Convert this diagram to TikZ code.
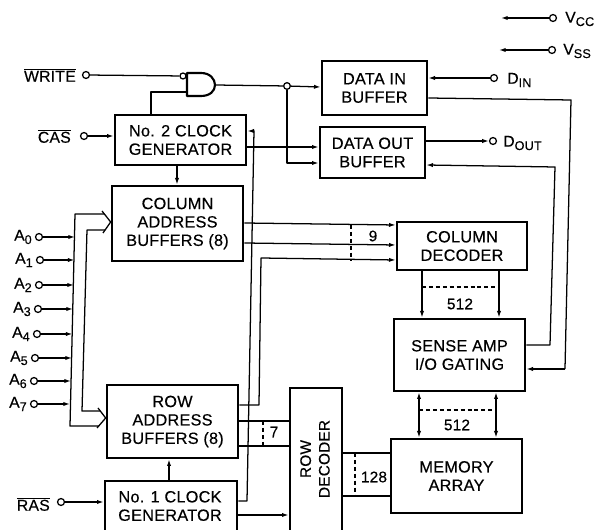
\documentclass[tikz,border=0pt]{standalone}
\usepackage{fontspec}
\setmainfont[FakeBold=0.35,LetterSpace=1.5]{Liberation Sans}
\usetikzlibrary{arrows.meta}
\newcommand{\pxbox}[6]{%
  \pgfmathsetmacro{\pxw}{(#4-#2)*0.75}\pgfmathsetmacro{\pxh}{(#5-#3)*0.75}%
  \node[blk,minimum width=\pxw pt,minimum height=\pxh pt] (#1) at ({(#2+#4)/2},{(#3+#5)/2}) {#6};}
\newcommand{\sbs}[1]{\raisebox{-0.4ex}{\fontsize{9.5}{10}\selectfont #1}}
\newcommand{\barr}[1]{$\overline{\mbox{#1}}$}
\tikzset{
  x=0.75pt,y=-0.75pt,
  blk/.style={draw,line width=2pt,inner sep=0pt,align=center,font=\fontsize{12.2}{13.8}\selectfont,fill=white},
  wire/.style={line width=0.95pt,line join=round},
  arrw/.style={wire,-{Latex[length=5pt,width=3.2pt]}},
  arrb/.style={wire,{Latex[length=5pt,width=3.2pt]}-{Latex[length=5pt,width=3.2pt]}},
  dashln/.style={line width=0.95pt,dash pattern=on 3pt off 2.2pt},
  term/.style={draw,circle,line width=0.95pt,minimum size=5.2pt,inner sep=0pt,fill=white},
  lab/.style={inner sep=0pt,font=\fontsize{11.8}{13}\selectfont},
  num/.style={inner sep=0pt,font=\fontsize{11.5}{13}\selectfont},
  chev/.style={line width=0.95pt,line join=miter}
}
\begin{document}
\begin{tikzpicture}
\useasboundingbox (0,0) rectangle (594,530);
\clip (0,0) rectangle (594,530);
% blocks
\pxbox{clkb}{115}{115}{246}{165}{No. 2 CLOCK\\GENERATOR}
\pxbox{cab}{112}{186}{243}{261}{COLUMN\\ADDRESS\\BUFFERS (8)}
\pxbox{din}{322}{61}{427}{115}{DATA IN\\BUFFER}
\pxbox{dout}{320}{127}{425}{178}{DATA OUT\\BUFFER}
\pxbox{cdec}{397}{222}{527}{270}{COLUMN\\DECODER}
\pxbox{sense}{394}{319}{525}{391}{SENSE AMP\\I/O GATING}
\pxbox{mem}{391}{439}{522}{513}{MEMORY\\ARRAY}
\pxbox{rab}{107}{385}{238}{458}{ROW\\ADDRESS\\BUFFERS (8)}
\pxbox{clka}{105}{481}{237}{540}{}
\node[inner sep=0pt,align=center,font=\fontsize{12.2}{13.8}\selectfont] at (170,506) {No. 1 CLOCK\\GENERATOR};
\pxbox{rdec}{290}{388}{342}{540}{}
\node[inner sep=0pt,align=center,rotate=90,font=\fontsize{11.5}{14}\selectfont] at (315,459) {ROW\\DECODER};
% terminals
\node[term] (twr) at (86,75) {};
\node[lab,anchor=east] (lwr) at (76,75) {\barr{WRITE}};
\node[term] (tcas) at (84,136) {};
\node[lab,anchor=east] (lcas) at (71,136) {\barr{CAS}};
\node[term] (tras) at (61,502) {};
\node[lab,anchor=east] (lras) at (50,504) {\barr{RAS}};
\foreach \n/\px/\py/\bx in {0/39/237/75,1/40/260/74.5,2/39/285/74,3/38/309/73,4/37/334/72.5,5/35/358/72,6/34/381/71,7/34/404/70}{
  \node[term] (ta\n) at (\px,\py) {};
  \node[lab,anchor=east] (la\n) at (\px-7,\py) {A\sbs{\n}};
  \coordinate (ba\n) at (\bx,\py);
  \draw[arrw] (ta\n) -- (ba\n);
}
\node[term] (tvcc) at (553,18) {};
\node[lab,anchor=west] (lvcc) at (565,19) {V\sbs{CC}};
\coordinate (evcc) at (501,18);
\draw[arrw] (tvcc) -- (evcc);
\node[term] (tvss) at (552,50) {};
\node[lab,anchor=west] (lvss) at (563,51) {V\sbs{SS}};
\coordinate (evss) at (499,50);
\draw[arrw] (tvss) -- (evss);
\node[term] (tdin) at (494,78) {};
\node[lab,anchor=west] (ldin) at (507,80) {D\sbs{IN}};
\node[term] (tdout) at (493,141) {};
\node[lab,anchor=west] (ldout) at (503,143) {D\sbs{OUT}};
% NAND gate
\draw[line width=1.6pt,line join=round,fill=white] (187,73) -- (201,73) .. controls (210,73) and (215,79) .. (215,85) .. controls (215,91) and (210,96) .. (201,96) -- (187,96) -- cycle;
\coordinate (gateout) at (215,85);
\coordinate (gatein) at (187,92);
\node[term,minimum size=4.5pt] (gb) at (183,76) {};
\draw[wire] (twr) -- (gb);
\draw[wire] (gatein) -| (clkb.north -| 151,0);
% gate output with junction
\node[term,minimum size=5pt] (jct) at (287,86) {};
\draw[wire] (gateout) -- (jct);
\draw[arrw] (jct) -- (din.west |- 0,87);
\draw[arrw] (jct) |- (dout.west |- 0,163);
\draw[arrw] (clkb.east |- 0,147) -- (dout.west |- 0,147);
% clocks
\draw[arrw] (tcas) -- (clkb.west |- tcas);
\draw[arrw] (clkb.south -| 177,0) -- (cab.north -| 177,0);
\draw[arrw] (tras) -- (clka.west |- tras);
\draw[arrw] (clka.north -| 169,0) -- (rab.south -| 169,0);
\coordinate (c1a) at (247,501);
\coordinate (c1b) at (254,131);
\draw[wire,-{Latex[length=5pt,width=3.2pt]}] (clka.east |- c1a) -- (c1a) -- (c1b) -- (clkb.east |- c1b);
\draw[arrw] (clka.east |- 0,515) -- (rdec.west |- 0,515);
% address bus
\coordinate (ctop) at (75,214);
\coordinate (cbot) at (70,426);
\coordinate (itop) at (87,230);
\coordinate (ibot) at (82,411);
\draw[wire] (104,214) -- (ctop) -- (cbot) -- (99,426);
\draw[wire] (105,230) -- (itop) -- (ibot) -- (100,411);
\draw[chev] (102,211) -- (cab.west |- 0,222) -- (103,233);
\draw[chev] (98,408) -- (rab.west |- 0,418) -- (97,428);
% column lines
\draw[arrw] (cab.east |- 0,223) -- (cdec.west |- 0,225);
\draw[arrw] (cab.east |- 0,243) -- (cdec.west |- 0,245);
\coordinate (r1) at (259,405);
\coordinate (r2) at (261,258);
\draw[arrw] (rab.east |- r1) -- (r1) -- (r2) -- (cdec.west |- 0,260);
\draw[dashln] (351,225) -- (351,260);
\node[num] (n9) at (373,236) {9};
% row lines
\draw[wire] (rab.east |- 0,421) -- (rdec.west |- 0,421);
\draw[wire] (rab.east |- 0,446) -- (rdec.west |- 0,446);
\draw[dashln] (263,421) -- (263,446);
\node[num] (n7) at (274,432) {7};
% memory lines
\draw[wire] (rdec.east |- 0,453) -- (mem.west |- 0,453);
\draw[wire] (rdec.east |- 0,496) -- (mem.west |- 0,496);
\draw[dashln] (355,453) -- (355,496);
\node[num] (n128) at (374,477) {128};
% decoder / sense
\draw[arrw] (cdec.south -| 422,0) -- (sense.north -| 422,0);
\draw[arrw] (cdec.south -| 499,0) -- (sense.north -| 499,0);
\draw[dashln] (422,287) -- (499,287);
\node[num] (n512a) at (460,304) {512};
\draw[arrb] (sense.south -| 419,0) -- (mem.north -| 419,0);
\draw[arrb] (sense.south -| 496,0) -- (mem.north -| 496,0);
\draw[dashln] (419,410) -- (496,410);
\node[num] (n512b) at (457,425) {512};
% data lines
\draw[arrw] (tdin) -- (din.east |- tdin);
\draw[arrw] (dout.east |- tdout) -- (tdout);
\coordinate (d1) at (571,100);
\coordinate (d2) at (565,369);
\draw[wire] (din.east |- 0,98) -- (d1) -- (d2);
\draw[wire,-{Latex[length=5pt,width=3.2pt]}] (d2) -- (sense.east |- d2);
\coordinate (e1) at (555,167);
\coordinate (e2) at (550,345);
\draw[wire,-{Latex[length=5pt,width=3.2pt]}] (sense.east |- e2) -- (e2) -- (e1) -- (dout.east |- 0,165);
\end{tikzpicture}
\end{document}
